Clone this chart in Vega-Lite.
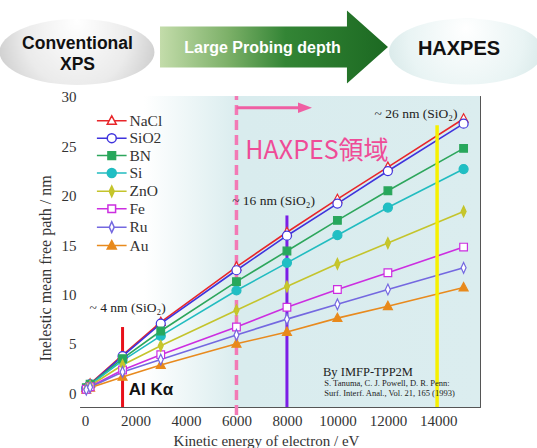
{
  "$schema": "https://vega.github.io/schema/vega-lite/v6.json",
  "width": 400,
  "height": 311,
  "autosize": {"type": "none"},
  "padding": {"left": 80, "top": 96, "right": 57, "bottom": 41},
  "background": "white",
  "config": {
    "view": {"stroke": "#555", "strokeWidth": 1},
    "axis": {
      "domainColor": "#555", "tickColor": "#555", "tickWidth": 1,
      "labelFont": "Liberation Serif", "titleFont": "Liberation Serif",
      "labelColor": "#333", "titleColor": "#333", "grid": false,
      "labelFontSize": 15, "titleFontSize": 16, "titleFontWeight": "normal",
      "labelOverlap": false, "labelBound": false, "labelFlush": false
    },
    "legend": {"orient": "none", "legendX": 24, "legendY": 17, "padding": 0, "symbolStrokeWidth": 1.5, "symbolOpacity": 1, "labelFont": "Liberation Serif", "labelFontSize": 15.5, "labelColor": "#333", "labelOffset": 10, "rowPadding": 0.4, "symbolSize": 81}
  },
  "resolve": {"axis": {"x": "independent", "y": "independent"}},
  "datasets": {
    "imfp": [
      {"material": "NaCl", "energy": 50, "imfp": 0.55}, {"material": "NaCl", "energy": 200, "imfp": 0.95}, {"material": "NaCl", "energy": 1486, "imfp": 3.85}, {"material": "NaCl", "energy": 3000, "imfp": 7.2}, {"material": "NaCl", "energy": 6000, "imfp": 12.8}, {"material": "NaCl", "energy": 8000, "imfp": 16.3}, {"material": "NaCl", "energy": 10000, "imfp": 19.65}, {"material": "NaCl", "energy": 12000, "imfp": 22.9}, {"material": "NaCl", "energy": 15000, "imfp": 27.8},
      {"material": "SiO2", "energy": 50, "imfp": 0.5}, {"material": "SiO2", "energy": 200, "imfp": 0.9}, {"material": "SiO2", "energy": 1486, "imfp": 3.75}, {"material": "SiO2", "energy": 3000, "imfp": 7.05}, {"material": "SiO2", "energy": 6000, "imfp": 12.45}, {"material": "SiO2", "energy": 8000, "imfp": 15.95}, {"material": "SiO2", "energy": 10000, "imfp": 19.2}, {"material": "SiO2", "energy": 12000, "imfp": 22.5}, {"material": "SiO2", "energy": 15000, "imfp": 27.3},
      {"material": "BN", "energy": 50, "imfp": 0.55}, {"material": "BN", "energy": 200, "imfp": 0.9}, {"material": "BN", "energy": 1486, "imfp": 3.5}, {"material": "BN", "energy": 3000, "imfp": 6.3}, {"material": "BN", "energy": 6000, "imfp": 11.3}, {"material": "BN", "energy": 8000, "imfp": 14.4}, {"material": "BN", "energy": 10000, "imfp": 17.5}, {"material": "BN", "energy": 12000, "imfp": 20.5}, {"material": "BN", "energy": 15000, "imfp": 24.8},
      {"material": "Si", "energy": 50, "imfp": 0.5}, {"material": "Si", "energy": 200, "imfp": 0.85}, {"material": "Si", "energy": 1486, "imfp": 3.3}, {"material": "Si", "energy": 3000, "imfp": 5.8}, {"material": "Si", "energy": 6000, "imfp": 10.4}, {"material": "Si", "energy": 8000, "imfp": 13.2}, {"material": "Si", "energy": 10000, "imfp": 16.0}, {"material": "Si", "energy": 12000, "imfp": 18.8}, {"material": "Si", "energy": 15000, "imfp": 22.7},
      {"material": "ZnO", "energy": 50, "imfp": 0.45}, {"material": "ZnO", "energy": 200, "imfp": 0.75}, {"material": "ZnO", "energy": 1486, "imfp": 2.85}, {"material": "ZnO", "energy": 3000, "imfp": 4.8}, {"material": "ZnO", "energy": 6000, "imfp": 8.4}, {"material": "ZnO", "energy": 8000, "imfp": 10.8}, {"material": "ZnO", "energy": 10000, "imfp": 13.1}, {"material": "ZnO", "energy": 12000, "imfp": 15.2}, {"material": "ZnO", "energy": 15000, "imfp": 18.4},
      {"material": "Fe", "energy": 50, "imfp": 0.4}, {"material": "Fe", "energy": 200, "imfp": 0.65}, {"material": "Fe", "energy": 1486, "imfp": 2.35}, {"material": "Fe", "energy": 3000, "imfp": 3.9}, {"material": "Fe", "energy": 6000, "imfp": 6.7}, {"material": "Fe", "energy": 8000, "imfp": 8.7}, {"material": "Fe", "energy": 10000, "imfp": 10.5}, {"material": "Fe", "energy": 12000, "imfp": 12.2}, {"material": "Fe", "energy": 15000, "imfp": 14.8},
      {"material": "Ru", "energy": 50, "imfp": 0.35}, {"material": "Ru", "energy": 200, "imfp": 0.6}, {"material": "Ru", "energy": 1486, "imfp": 2.15}, {"material": "Ru", "energy": 3000, "imfp": 3.4}, {"material": "Ru", "energy": 6000, "imfp": 5.9}, {"material": "Ru", "energy": 8000, "imfp": 7.5}, {"material": "Ru", "energy": 10000, "imfp": 9.0}, {"material": "Ru", "energy": 12000, "imfp": 10.5}, {"material": "Ru", "energy": 15000, "imfp": 12.7},
      {"material": "Au", "energy": 50, "imfp": 0.35}, {"material": "Au", "energy": 200, "imfp": 0.55}, {"material": "Au", "energy": 1486, "imfp": 1.65}, {"material": "Au", "energy": 3000, "imfp": 2.85}, {"material": "Au", "energy": 6000, "imfp": 5.0}, {"material": "Au", "energy": 8000, "imfp": 6.2}, {"material": "Au", "energy": 10000, "imfp": 7.6}, {"material": "Au", "energy": 12000, "imfp": 8.8}, {"material": "Au", "energy": 15000, "imfp": 10.7}
    ]
  },
  "layer": [
    {
      "data": {"values": [{"e0": -200, "e1": 15650, "v0": -1.4, "v1": 30.1}]},
      "mark": {"type": "rect", "fill": {"gradient": "linear", "x1": 0, "y1": 0, "x2": 1, "y2": 0, "stops": [{"offset": 0, "color": "#ffffff"}, {"offset": 0.16, "color": "#ffffff"}, {"offset": 0.4, "color": "#d9ecee"}, {"offset": 1, "color": "#dbedef"}]}},
      "encoding": {
        "x": {"field": "e0", "type": "quantitative", "scale": {"domain": [-200, 15650], "nice": false, "zero": false}, "axis": null},
        "x2": {"field": "e1"},
        "y": {"field": "v0", "type": "quantitative", "scale": {"domain": [-1.4, 30.1], "nice": false, "zero": false}, "axis": null},
        "y2": {"field": "v1"}
      }
    },
    {
      "data": {"values": [{"e": -320, "v": 34.56}]},
      "mark": {"type": "point", "filled": true, "opacity": 1, "strokeWidth": 0, "size": 24025, "shape": "M-1,0A1,0.426 0 1,0 1,0A1,0.426 0 1,0 -1,0Z", "fill": {"gradient": "radial", "x1": 0.5, "y1": 0.3, "r1": 0, "x2": 0.5, "y2": 0.45, "r2": 0.62, "stops": [{"offset": 0, "color": "#ffffff"}, {"offset": 0.55, "color": "#ebebeb"}, {"offset": 1, "color": "#bfbfbf"}]}},
      "encoding": {"x": {"field": "e", "type": "quantitative", "axis": null}, "y": {"field": "v", "type": "quantitative", "axis": null}}
    },
    {
      "data": {"values": [{"e": 7487, "v": 35.06}]},
      "mark": {"type": "point", "filled": true, "opacity": 1, "strokeWidth": 0, "size": 51984, "shape": "M-1,-0.18L0.64,-0.18L0.64,-0.32L1,0L0.64,0.32L0.64,0.18L-1,0.18Z", "fill": {"gradient": "linear", "x1": 0, "y1": 0, "x2": 1, "y2": 0, "stops": [{"offset": 0, "color": "#c3dcaa"}, {"offset": 0.3, "color": "#7cb068"}, {"offset": 0.55, "color": "#338535"}, {"offset": 1, "color": "#1c6922"}]}},
      "encoding": {"x": {"field": "e", "type": "quantitative", "axis": null}, "y": {"field": "v", "type": "quantitative", "axis": null}}
    },
    {
      "data": {"values": [{"e": 15097, "v": 34.6}]},
      "mark": {"type": "point", "filled": true, "opacity": 1, "strokeWidth": 0, "size": 23716, "shape": "M-1,0A1,0.43 0 1,0 1,0A1,0.43 0 1,0 -1,0Z", "fill": {"gradient": "radial", "x1": 0.5, "y1": 0.35, "r1": 0, "x2": 0.5, "y2": 0.45, "r2": 0.62, "stops": [{"offset": 0, "color": "#ffffff"}, {"offset": 0.6, "color": "#e9f4f4"}, {"offset": 1, "color": "#cfe3e3"}]}},
      "encoding": {"x": {"field": "e", "type": "quantitative", "axis": null}, "y": {"field": "v", "type": "quantitative", "axis": null}}
    },
    {
      "data": {"values": [{"e": -300, "v": 35.4, "label": "Conventional\nXPS"}]},
      "mark": {"type": "text", "font": "Liberation Sans", "fontWeight": "bold", "fontSize": 17.5, "lineBreak": "\n", "lineHeight": 21, "color": "#111", "align": "center", "baseline": "middle"},
      "encoding": {"x": {"field": "e", "type": "quantitative", "axis": null}, "y": {"field": "v", "type": "quantitative", "axis": null}, "text": {"field": "label"}}
    },
    {
      "data": {"values": [{"e": 7033, "v": 35.0, "label": "Large Probing depth"}]},
      "mark": {"type": "text", "font": "Liberation Sans", "fontWeight": "bold", "fontSize": 16, "color": "#ffffff", "align": "center", "baseline": "middle"},
      "encoding": {"x": {"field": "e", "type": "quantitative", "axis": null}, "y": {"field": "v", "type": "quantitative", "axis": null}, "text": {"field": "label"}}
    },
    {
      "data": {"values": [{"e": 14818, "v": 34.85, "label": "HAXPES"}]},
      "mark": {"type": "text", "font": "Liberation Sans", "fontWeight": "bold", "fontSize": 20, "color": "#111", "align": "center", "baseline": "middle"},
      "encoding": {"x": {"field": "e", "type": "quantitative", "axis": null}, "y": {"field": "v", "type": "quantitative", "axis": null}, "text": {"field": "label"}}
    },
    {
      "data": {"values": [{"e": 6000, "lo": -2.2, "hi": 30.1}]},
      "mark": {"type": "rule", "color": "#f27ab5", "strokeWidth": 3.5, "strokeDash": [10, 5]},
      "encoding": {"x": {"field": "e", "type": "quantitative", "axis": null}, "y": {"field": "lo", "type": "quantitative", "axis": null}, "y2": {"field": "hi"}}
    },
    {
      "data": {"name": "imfp"},
      "mark": {"type": "line", "strokeWidth": 1.6},
      "encoding": {
        "x": {"field": "energy", "type": "quantitative", "scale": {"domain": [-200, 15650], "nice": false, "zero": false},
          "axis": {"orient": "bottom", "title": "Kinetic energy of electron / eV", "titlePadding": 1, "titleFontSize": 15, "titleX": 186, "format": "d", "labelPadding": 13,
            "values": [0,200,400,600,800,1000,1200,1400,1600,1800,2000,2200,2400,2600,2800,3000,3200,3400,3600,3800,4000,4200,4400,4600,4800,5000,5200,5400,5600,5800,6000,6200,6400,6600,6800,7000,7200,7400,7600,7800,8000,8200,8400,8600,8800,9000,9200,9400,9600,9800,10000,10200,10400,10600,10800,11000,11200,11400,11600,11800,12000,12200,12400,12600,12800,13000,13200,13400,13600,13800,14000,14200,14400,14600,14800,15000,15200,15400,15600],
            "labelExpr": "datum.value % 2000 === 0 && datum.value <= 14000 ? datum.label : ''",
            "tickSize": {"expr": "datum.value % 2000 === 0 ? -7 : (datum.value % 1000 === 0 ? -5 : -3)"}}},
        "y": {"field": "imfp", "type": "quantitative", "scale": {"domain": [-1.4, 30.1], "nice": false, "zero": false},
          "axis": {"orient": "left", "title": "Inelestic mean free path / nm", "titlePadding": 8, "titleY": 172, "labelPadding": 11,
            "values": [-1,0,1,2,3,4,5,6,7,8,9,10,11,12,13,14,15,16,17,18,19,20,21,22,23,24,25,26,27,28,29,30],
            "labelExpr": "datum.value % 5 === 0 && datum.value >= 0 ? datum.label : ''",
            "tickSize": {"expr": "datum.value % 5 === 0 ? -7 : -3.5"}}},
        "stroke": {"field": "material", "type": "nominal", "title": null}
      }
    },
    {
      "data": {"values": [{"e": 1486, "lo": -1.4, "hi": 6.7}]},
      "mark": {"type": "rule", "color": "#e8101a", "strokeWidth": 3},
      "encoding": {"x": {"field": "e", "type": "quantitative", "axis": null}, "y": {"field": "lo", "type": "quantitative", "axis": null}, "y2": {"field": "hi"}}
    },
    {
      "data": {"values": [{"e": 8000, "lo": -1.4, "hi": 18.0}]},
      "mark": {"type": "rule", "color": "#7b1ee6", "strokeWidth": 3},
      "encoding": {"x": {"field": "e", "type": "quantitative", "axis": null}, "y": {"field": "lo", "type": "quantitative", "axis": null}, "y2": {"field": "hi"}}
    },
    {
      "data": {"values": [{"e": 13950, "lo": -1.4, "hi": 27.15}]},
      "mark": {"type": "rule", "color": "#f6f000", "strokeWidth": 3.5},
      "encoding": {
        "x": {"field": "e", "type": "quantitative",
          "axis": {"orient": "top", "title": null, "labels": false,
            "values": [0,200,400,600,800,1000,1200,1400,1600,1800,2000,2200,2400,2600,2800,3000,3200,3400,3600,3800,4000,4200,4400,4600,4800,5000,5200,5400,5600,5800,6000,6200,6400,6600,6800,7000,7200,7400,7600,7800,8000,8200,8400,8600,8800,9000,9200,9400,9600,9800,10000,10200,10400,10600,10800,11000,11200,11400,11600,11800,12000,12200,12400,12600,12800,13000,13200,13400,13600,13800,14000,14200,14400,14600,14800,15000,15200,15400,15600],
            "tickSize": {"expr": "datum.value % 2000 === 0 ? -7 : (datum.value % 1000 === 0 ? -5 : -3)"}}},
        "y": {"field": "lo", "type": "quantitative",
          "axis": {"orient": "right", "title": null, "labels": false,
            "values": [-1,0,1,2,3,4,5,6,7,8,9,10,11,12,13,14,15,16,17,18,19,20,21,22,23,24,25,26,27,28,29,30],
            "tickSize": {"expr": "datum.value % 5 === 0 ? -7 : -3.5"}}},
        "y2": {"field": "hi"}
      }
    },
    {
      "data": {"name": "imfp"},
      "transform": [{"filter": "indexof(['NaCl','Au'], datum.material) >= 0"}],
      "mark": {"type": "point", "filled": true, "opacity": 1, "size": 81, "strokeWidth": 1.2, "shape": "M0,-1.1L1,0.75L-1,0.75Z"},
      "encoding": {
        "x": {"field": "energy", "type": "quantitative", "axis": null},
        "y": {"field": "imfp", "type": "quantitative", "axis": null},
        "fill": {"field": "material", "type": "nominal", "title": null},
        "stroke": {"field": "material", "type": "nominal", "title": null}
      }
    },
    {
      "data": {"name": "imfp"},
      "transform": [{"filter": "indexof(['SiO2','Si'], datum.material) >= 0"}],
      "mark": {"type": "point", "filled": true, "opacity": 1, "size": 81, "strokeWidth": 1.2, "shape": "M-1,0A1,1 0 1,0 1,0A1,1 0 1,0 -1,0Z"},
      "encoding": {
        "x": {"field": "energy", "type": "quantitative", "axis": null},
        "y": {"field": "imfp", "type": "quantitative", "axis": null},
        "fill": {"field": "material", "type": "nominal", "title": null},
        "stroke": {"field": "material", "type": "nominal", "title": null}
      }
    },
    {
      "data": {"name": "imfp"},
      "transform": [{"filter": "indexof(['BN','Fe'], datum.material) >= 0"}],
      "mark": {"type": "point", "filled": true, "opacity": 1, "size": 81, "strokeWidth": 1.2, "shape": "M-0.85,-0.85L0.85,-0.85L0.85,0.85L-0.85,0.85Z"},
      "encoding": {
        "x": {"field": "energy", "type": "quantitative", "axis": null},
        "y": {"field": "imfp", "type": "quantitative", "axis": null},
        "fill": {"field": "material", "type": "nominal", "title": null},
        "stroke": {"field": "material", "type": "nominal", "title": null}
      }
    },
    {
      "data": {"name": "imfp"},
      "transform": [{"filter": "indexof(['ZnO','Ru'], datum.material) >= 0"}],
      "mark": {"type": "point", "filled": true, "opacity": 1, "size": 81, "strokeWidth": 1.2, "shape": "M0,-1.2L0.55,0L0,1.2L-0.55,0Z"},
      "encoding": {
        "x": {"field": "energy", "type": "quantitative", "axis": null},
        "y": {"field": "imfp", "type": "quantitative", "axis": null},
        "fill": {"field": "material", "type": "nominal", "title": null},
        "stroke": {"field": "material", "type": "nominal", "title": null}
      }
    },
    {
      "data": {"name": "imfp"},
      "transform": [{"filter": "false"}],
      "mark": {"type": "point", "filled": true, "opacity": 1, "size": 81, "strokeWidth": 1.5},
      "encoding": {
        "fill": {"field": "material", "type": "nominal", "title": null,
          "scale": {"domain": ["NaCl", "SiO2", "BN", "Si", "ZnO", "Fe", "Ru", "Au"], "range": ["#ffffff", "#ffffff", "#26a85c", "#1fbfc4", "#c7c72a", "#ffffff", "#ffffff", "#e8891a"]}},
        "stroke": {"field": "material", "type": "nominal", "title": null,
          "scale": {"domain": ["NaCl", "SiO2", "BN", "Si", "ZnO", "Fe", "Ru", "Au"], "range": ["#e8262a", "#3f33dd", "#2da65c", "#22bcc0", "#c4c42c", "#cc2ee0", "#7468e0", "#e88a1e"]}},
        "shape": {"field": "material", "type": "nominal", "title": null,
          "scale": {"domain": ["NaCl", "SiO2", "BN", "Si", "ZnO", "Fe", "Ru", "Au"], "range": [
            "M0,-1.1L1,0.75L-1,0.75Z M-3.3,0L-0.6,0 M0.6,0L3.3,0",
            "M-1,0A1,1 0 1,0 1,0A1,1 0 1,0 -1,0Z M-3.3,0L-1,0 M1,0L3.3,0",
            "M-0.85,-0.85L0.85,-0.85L0.85,0.85L-0.85,0.85Z M-3.3,0L-0.85,0 M0.85,0L3.3,0",
            "M-1,0A1,1 0 1,0 1,0A1,1 0 1,0 -1,0Z M-3.3,0L-1,0 M1,0L3.3,0",
            "M0,-1.2L0.55,0L0,1.2L-0.55,0Z M-3.3,0L-0.55,0 M0.55,0L3.3,0",
            "M-0.85,-0.85L0.85,-0.85L0.85,0.85L-0.85,0.85Z M-3.3,0L-0.85,0 M0.85,0L3.3,0",
            "M0,-1.2L0.55,0L0,1.2L-0.55,0Z M-3.3,0L-0.55,0 M0.55,0L3.3,0",
            "M0,-1.1L1,0.75L-1,0.75Z M-3.3,0L-0.6,0 M0.6,0L3.3,0"]}}
      }
    },
    {
      "data": {"values": [{"e0": 6000, "e1": 8620, "v": 28.9}]},
      "mark": {"type": "rule", "color": "#ef5fa3", "strokeWidth": 3},
      "encoding": {"x": {"field": "e0", "type": "quantitative", "axis": null}, "x2": {"field": "e1"}, "y": {"field": "v", "type": "quantitative", "axis": null}}
    },
    {
      "data": {"values": [{"e": 8716, "v": 28.9}]},
      "mark": {"type": "point", "filled": true, "opacity": 1, "strokeWidth": 0, "size": 196, "shape": "M-1,-0.75L1,0L-1,0.75Z", "color": "#ef5fa3"},
      "encoding": {"x": {"field": "e", "type": "quantitative", "axis": null}, "y": {"field": "v", "type": "quantitative", "axis": null}}
    },
    {
      "data": {"values": [{"e": 9190, "v": 24.55, "label": "HAXPES領域"}]},
      "mark": {"type": "text", "font": "Noto Sans CJK JP", "fontSize": 25, "color": "#ef4b97", "align": "center", "baseline": "middle"},
      "encoding": {"x": {"field": "e", "type": "quantitative", "axis": null}, "y": {"field": "v", "type": "quantitative", "axis": null}, "text": {"field": "label"}}
    },
    {
      "data": {"values": [{"e": 13115, "v": 28.27, "label": "~ 26 nm (SiO₂)"}, {"e": 7470, "v": 19.45, "label": "~ 16 nm (SiO₂)"}, {"e": 1685, "v": 8.6, "label": "~ 4 nm (SiO₂)"}]},
      "mark": {"type": "text", "font": "Liberation Serif", "fontSize": 13.5, "color": "#222", "align": "center", "baseline": "middle"},
      "encoding": {"x": {"field": "e", "type": "quantitative", "axis": null}, "y": {"field": "v", "type": "quantitative", "axis": null}, "text": {"field": "label"}}
    },
    {
      "data": {"values": [{"e": 2615, "v": 0.35, "label": "Al Kα"}]},
      "mark": {"type": "text", "font": "Liberation Sans", "fontWeight": "bold", "fontSize": 17, "color": "#111", "align": "center", "baseline": "middle"},
      "encoding": {"x": {"field": "e", "type": "quantitative", "axis": null}, "y": {"field": "v", "type": "quantitative", "axis": null}, "text": {"field": "label"}}
    },
    {
      "data": {"values": [{"e": 9430, "v": 2.13, "label": "By IMFP-TPP2M"}]},
      "mark": {"type": "text", "font": "Liberation Serif", "fontSize": 12.5, "color": "#222", "align": "left", "baseline": "middle"},
      "encoding": {"x": {"field": "e", "type": "quantitative", "axis": null}, "y": {"field": "v", "type": "quantitative", "axis": null}, "text": {"field": "label"}}
    },
    {
      "data": {"values": [{"e": 9480, "v": 1.0, "label": "S. Tanuma, C. J. Powell, D. R. Penn:"}, {"e": 9480, "v": 0.0, "label": "Surf. Interf. Anal., Vol. 21, 165 (1993)"}]},
      "mark": {"type": "text", "font": "Liberation Serif", "fontSize": 8.5, "color": "#222", "align": "left", "baseline": "middle"},
      "encoding": {"x": {"field": "e", "type": "quantitative", "axis": null}, "y": {"field": "v", "type": "quantitative", "axis": null}, "text": {"field": "label"}}
    }
  ]
}
